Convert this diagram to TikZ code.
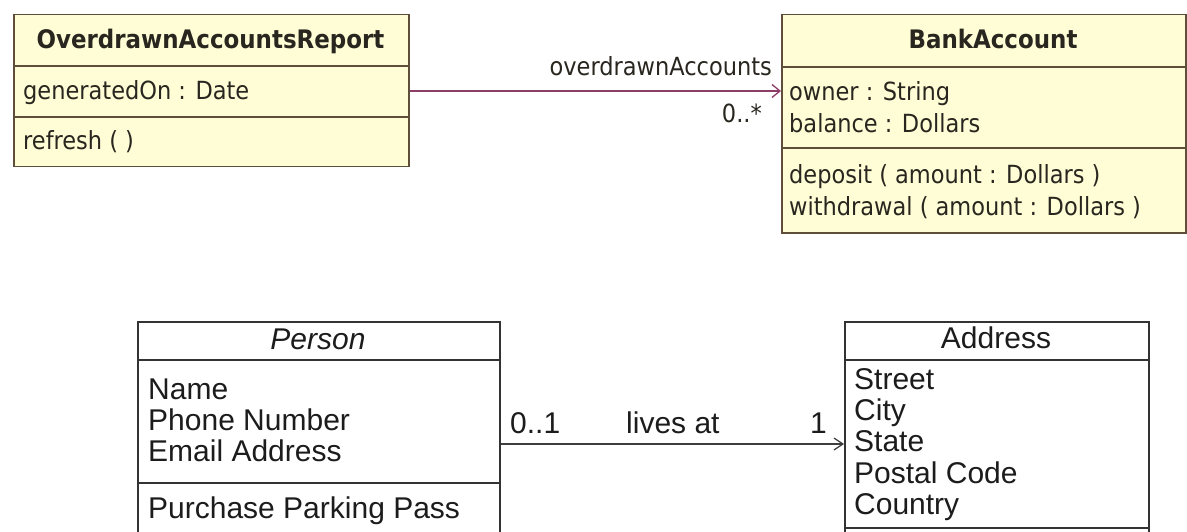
\documentclass[tikz,border=0pt]{standalone}
\usepackage{fontspec}
\usetikzlibrary{arrows.meta}
\newfontfamily\tah{DejaVu Sans Condensed}
\newfontfamily\ari{Liberation Sans}
\definecolor{boxyellow}{RGB}{255,253,214}
\definecolor{boxbrown}{RGB}{95,78,58}
\definecolor{toptext}{RGB}{40,38,30}
\definecolor{assoccol}{RGB}{140,62,105}
\definecolor{bottext}{RGB}{28,28,28}
\tikzset{
  ybox/.style={draw=boxbrown, fill=boxyellow, line width=1.5pt, inner sep=0, anchor=north west},
  wbox/.style={draw=bottext!90, fill=white, line width=1.5pt, inner sep=0, anchor=north west},
  ydiv/.style={draw=boxbrown, line width=1.7pt},
  wdiv/.style={draw=bottext!90, line width=1.5pt},
  ttxt/.style={inner sep=0, anchor=base west, text=toptext, font=\tah\fontsize{25}{30}\selectfont},
  thead/.style={inner sep=0, anchor=base, text=toptext, font=\tah\bfseries\fontsize{25.5}{30}\selectfont},
  btxt/.style={inner sep=0, anchor=base west, text=bottext, font=\ari\fontsize{30}{31.3}\selectfont},
  assoc/.style={draw=assoccol, line width=1.3pt, -{Straight Barb[length=8pt,width=13pt,line width=1.3pt]}},
  bassoc/.style={draw=bottext!85, line width=1.3pt, -{Straight Barb[length=9pt,width=12pt,line width=1.2pt]}},
}
\begin{document}
\begin{tikzpicture}[x=1pt,y=-1pt]
\clip (0,0) rectangle (1187,532);
\fill[white] (0,0) rectangle (1187,532);
% ---------- OverdrawnAccountsReport ----------
\node[ybox, minimum width=395pt, minimum height=152pt] (report) at (13,14) {};
\draw[ydiv] (13,66) -- (408,66);
\draw[ydiv] (13,117) -- (408,117);
\node[thead] (reporth) at (210.5,49) {OverdrawnAccountsReport};
\node[ttxt] (reporta) at (23,99.5) {generatedOn : Date};
\node[ttxt] (reportm) at (23,150) {refresh ( )};
% ---------- BankAccount ----------
\node[ybox, minimum width=404pt, minimum height=218pt] (bank) at (781,14) {};
\draw[ydiv] (781,67) -- (1185,67);
\draw[ydiv] (781,148) -- (1185,148);
\node[thead] (bankh) at (993,49) {BankAccount};
\node[ttxt] (banka1) at (789,101) {owner : String};
\node[ttxt] (banka2) at (789,133) {balance : Dollars};
\node[ttxt] (bankm1) at (789,184) {deposit ( amount : Dollars )};
\node[ttxt] (bankm2) at (789,215) {withdrawal ( amount : Dollars )};
% association top
\coordinate (aStart) at (report.east |- 0,91);
\coordinate (aEnd) at (bank.west |- 0,91);
\draw[assoc] (aStart) -- (aEnd);
\node[ttxt, anchor=base east] (rolename) at (772,76) {overdrawnAccounts};
\node[ttxt, anchor=base east] (mult) at (762,123) {0..*};
% ---------- Person ----------
\node[wbox, minimum width=362pt, minimum height=240pt] (person) at (137,321) {};
\draw[wdiv] (137,360) -- (499,360);
\draw[wdiv] (137,483) -- (499,483);
\node[btxt, anchor=base, font=\ari\itshape\fontsize{30}{31.3}\selectfont] (personh) at (318,349) {Person};
\node[btxt] (persona1) at (148,399) {Name};
\node[btxt] (persona2) at (148,430) {Phone Number};
\node[btxt] (persona3) at (148,461) {Email Address};
\node[btxt] (personm1) at (148,518) {Purchase Parking Pass};
% ---------- Address ----------
\node[wbox, minimum width=304pt, minimum height=240pt] (address) at (844,321) {};
\draw[wdiv] (844,360) -- (1148,360);
\draw[wdiv] (844,528) -- (1148,528);
\node[btxt, anchor=base] (addressh) at (996,348) {Address};
\node[btxt] (addr1) at (854,389) {Street};
\node[btxt] (addr2) at (854,420) {City};
\node[btxt] (addr3) at (854,451) {State};
\node[btxt] (addr4) at (854,483) {Postal Code};
\node[btxt] (addr5) at (854,514) {Country};
% association bottom
\coordinate (bStart) at (person.east |- 0,444);
\coordinate (bEnd) at (address.west |- 0,444);
\draw[bassoc] (bStart) -- (bEnd);
\node[btxt] (m01) at (510,433) {0..1};
\node[btxt] (livesat) at (626,433) {lives at};
\node[btxt, anchor=base east] (m1) at (827,433) {1};
\end{tikzpicture}
\end{document}
